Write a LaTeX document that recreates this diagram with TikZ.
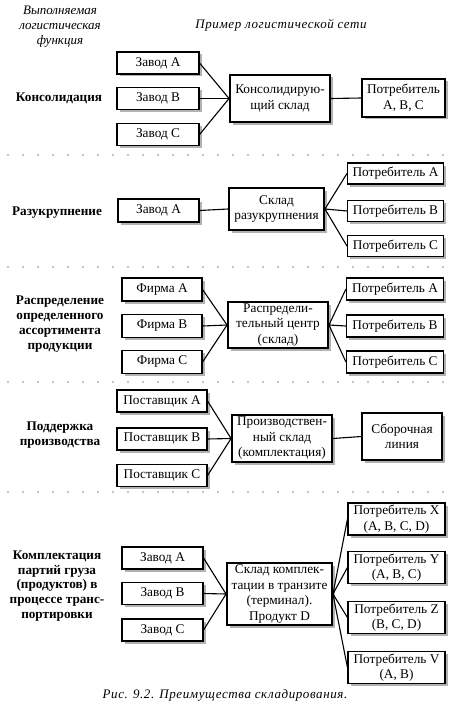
\documentclass[tikz,border=0pt]{standalone}
\usepackage{fontspec}
\setmainfont{Liberation Serif}
\usepackage{tikz}
\usetikzlibrary{shadows}

\begin{document}
\begin{tikzpicture}[x=1pt,y=-1pt]
\tikzstyle{every node}=[font=\fontsize{13.3}{15.5}\selectfont]
\tikzstyle{box}=[rectangle,draw,line width=1.1pt,fill=white,inner sep=1pt,align=center,
  drop shadow={shadow xshift=2.5pt,shadow yshift=-2.5pt,fill=black!30,opacity=1}]
\tikzstyle{hub}=[box,line width=1.9pt]
\tikzstyle{func}=[font=\fontsize{13.2}{14.8}\selectfont\bfseries,align=center]
\tikzstyle{head}=[font=\fontsize{13}{15}\selectfont\itshape,align=center]
\tikzstyle{spaced}=[font=\fontsize{13}{15}\selectfont\itshape\addfontfeature{LetterSpace=4.5}]
\tikzstyle{link}=[line width=1.1pt]
\tikzstyle{sep}=[line width=1.2pt,line cap=round,dash pattern=on 0pt off 15pt]

\useasboundingbox (0,0) rectangle (466,706);

% headings
\node[head] (hfun) at (60,27) {Выполняемая\\логистическая\\функция};
\node[head,spaced] (hnet) at (281,25) {Пример логистической сети};

% consolidation
\node[func] (f1) at (59,98) {Консолидация};
\node[box,minimum width=82pt,minimum height=22pt] (zA1) at (158,63) {Завод А};
\node[box,minimum width=82pt,minimum height=22pt] (zB1) at (158,98.5) {Завод В};
\node[box,minimum width=82pt,minimum height=22pt] (zC1) at (158,134.5) {Завод С};
\node[hub,minimum width=100pt,minimum height=47pt] (ks1) at (280,98.5) {Консолидирую-\\щий склад};
\node[box,minimum width=83pt,minimum height=38pt] (pt1) at (403.5,98) {Потребитель\\А, В, С};
\draw[link] (zA1.east) -- (ks1.west);
\draw[link] (zB1.east) -- (ks1.west);
\draw[link] (zC1.east) -- (ks1.west);
\draw[link] (ks1.east) -- (pt1.west);

\draw[sep] (8,155) -- (445,155);

% break-bulk
\node[func] (f2) at (57,213) {Разукрупнение};
\node[box,minimum width=81pt,minimum height=23pt] (zA2) at (158.5,210.5) {Завод А};
\node[hub,minimum width=95pt,minimum height=42pt] (sr2) at (276.5,209) {Склад\\разукрупнения};
\node[box,minimum width=96pt,minimum height=21pt] (pA2) at (395.5,173.5) {Потребитель А};
\node[box,minimum width=96pt,minimum height=21pt] (pB2) at (395.5,211) {Потребитель В};
\node[box,minimum width=96pt,minimum height=21pt] (pC2) at (395.5,246) {Потребитель С};
\draw[link] (zA2.east) -- (sr2.west);
\draw[link] (sr2.east) -- (pA2.west);
\draw[link] (sr2.east) -- (pB2.west);
\draw[link] (sr2.east) -- (pC2.west);

\draw[sep] (8,267) -- (445,267);

% distribution
\node[func] (f3) at (60,324) {Распределение\\определенного\\ассортимента\\продукции};
\node[box,minimum width=80pt,minimum height=23pt] (fA3) at (162,289.5) {Фирма А};
\node[box,minimum width=80pt,minimum height=23pt] (fB3) at (162,326) {Фирма В};
\node[box,minimum width=80pt,minimum height=23pt] (fC3) at (162,362) {Фирма С};
\node[hub,minimum width=100pt,minimum height=46pt] (rc3) at (278,325) {Распредели-\\тельный центр\\(склад)};
\node[box,minimum width=97pt,minimum height=22pt] (pA3) at (395,289) {Потребитель А};
\node[box,minimum width=97pt,minimum height=22pt] (pB3) at (395,326) {Потребитель В};
\node[box,minimum width=97pt,minimum height=22pt] (pC3) at (395,362) {Потребитель С};
\draw[link] (fA3.east) -- (rc3.west);
\draw[link] (fB3.east) -- (rc3.west);
\draw[link] (fC3.east) -- (rc3.west);
\draw[link] (rc3.east) -- (pA3.west);
\draw[link] (rc3.east) -- (pB3.west);
\draw[link] (rc3.east) -- (pC3.west);

\draw[sep] (8,382) -- (445,382);

% production support
\node[func] (f4) at (60,435) {Поддержка\\производства};
\node[box,minimum width=90pt,minimum height=22pt] (sA4) at (162,401) {Поставщик А};
\node[box,minimum width=90pt,minimum height=22pt] (sB4) at (162,439) {Поставщик В};
\node[box,minimum width=90pt,minimum height=22pt] (sC4) at (162,475.5) {Поставщик С};
\node[hub,minimum width=100pt,minimum height=47pt] (ps4) at (282,438.5) {Производствен-\\ный склад\\(комплектация)};
\node[box,minimum width=80pt,minimum height=47pt] (sl4) at (402,436.5) {Сборочная\\линия};
\draw[link] (sA4.east) -- (ps4.west);
\draw[link] (sB4.east) -- (ps4.west);
\draw[link] (sC4.east) -- (ps4.west);
\draw[link] (ps4.east) -- (sl4.west);

\draw[sep] (8,492) -- (445,492);

% transit terminal
\node[func] (f5) at (57,586) {Комплектация\\партий груза\\(продуктов) в\\процессе транс-\\портировки};
\node[box,minimum width=81pt,minimum height=22pt] (zA5) at (162.5,558) {Завод А};
\node[box,minimum width=81pt,minimum height=22pt] (zB5) at (162.5,593.5) {Завод В};
\node[box,minimum width=81pt,minimum height=22pt] (zC5) at (162.5,630) {Завод С};
\node[hub,minimum width=105pt,minimum height=62pt] (kt5) at (279.5,594) {Склад комплек-\\тации в транзите\\(терминал).\\Продукт D};
\node[box,minimum width=97pt,minimum height=32pt] (pX5) at (396.5,519) {Потребитель X\\(А, В, С, D)};
\node[box,minimum width=97pt,minimum height=32pt] (pY5) at (396.5,567.5) {Потребитель Y\\(А, В, С)};
\node[box,minimum width=97pt,minimum height=32pt] (pZ5) at (396.5,617.5) {Потребитель Z\\(В, С, D)};
\node[box,minimum width=97pt,minimum height=32pt] (pV5) at (396.5,667.5) {Потребитель V\\(А, В)};
\draw[link] (zA5.east) -- (kt5.west);
\draw[link] (zB5.east) -- (kt5.west);
\draw[link] (zC5.east) -- (kt5.west);
\draw[link] (kt5.east) -- (pX5.west);
\draw[link] (kt5.east) -- (pY5.west);
\draw[link] (kt5.east) -- (pZ5.west);
\draw[link] (kt5.east) -- (pV5.west);

% caption
\node[head,spaced] (cap) at (225,695) {Рис. 9.2. Преимущества складирования.};
\end{tikzpicture}
\end{document}
